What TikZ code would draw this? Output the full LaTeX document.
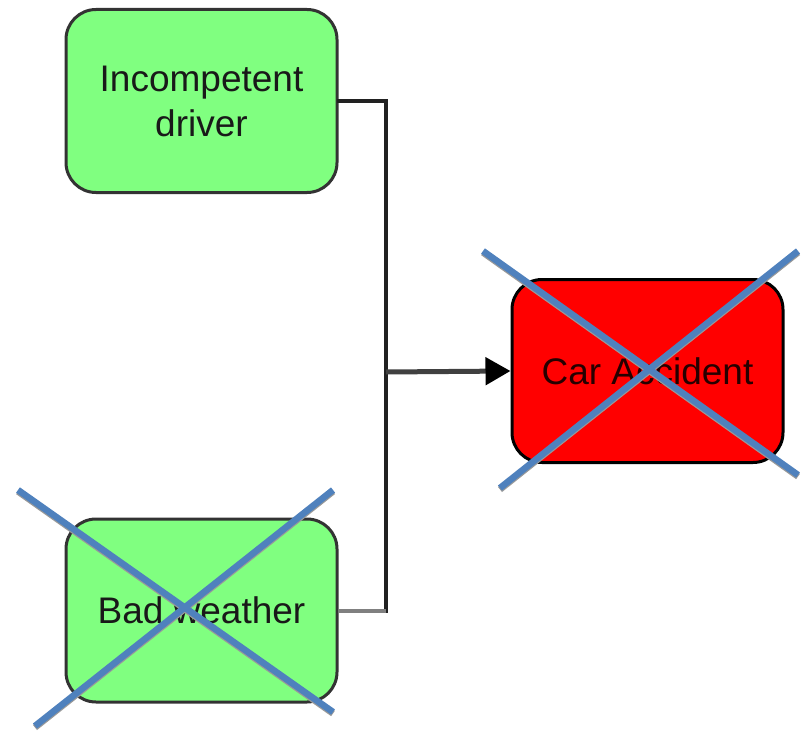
\documentclass[tikz,border=0pt]{standalone}
\usepackage{fontspec}
\setmainfont{Liberation Sans}
\usetikzlibrary{arrows.meta}
\definecolor{boxgreen}{HTML}{80FF80}
\definecolor{boxred}{HTML}{FF0000}
\definecolor{crossblue}{HTML}{4F81BD}
\definecolor{edgedark}{HTML}{333333}
\tikzset{
  cause/.style={draw=edgedark, line width=3pt, fill=boxgreen, rounded corners=30pt,
    minimum width=271pt, minimum height=183pt, align=center,
    font=\fontsize{37}{45}\selectfont, text=black!90},
  effect/.style={cause, draw=black, fill=boxred, text=black!85!red},
  wire/.style={line width=4pt, draw=black!87},
  crossline/.style={line width=6.5pt, draw=crossblue},
  crossshade/.style={line width=6.5pt, draw=black!40}
}
\begin{document}
\begin{tikzpicture}[x=1pt,y=-1pt]
\useasboundingbox (0,0) rectangle (803,733);
\fill[white] (0,0) rectangle (803,733);

\node[cause]  (drv) at (201.5,101)   {Incompetent\\driver};
\node[cause]  (wea) at (201.5,610.5) {Bad weather};
\node[effect] (acc) at (647.5,371)   {Car Accident};

\coordinate (jn) at (386,372);

% joining lines from the two causes
\draw[wire, line cap=rect] (drv.east) -- (drv.east -| jn) -- (wea.east -| jn);
\draw[wire, draw=black!50] (wea.east) -- (wea.east -| jn);
\draw[line width=5pt, draw=black!75,
      -{Triangle[length=25pt,width=27pt,fill=black,color=black]}] (jn) -- (acc.west);

% strike-out crosses
\coordinate (a1) at (483,251); \coordinate (a2) at (798,475);
\coordinate (a3) at (798,251); \coordinate (a4) at (500,488);
\coordinate (b1) at (18,490);  \coordinate (b2) at (333,712);
\coordinate (b3) at (333,490); \coordinate (b4) at (35,726);
\foreach \p/\q in {a1/a2,a3/a4,b1/b2,b3/b4}{
  \draw[crossshade] ([shift={(0,1.5)}]\p) -- ([shift={(0,1.5)}]\q);
}
\foreach \p/\q in {a1/a2,a3/a4,b1/b2,b3/b4}{
  \draw[crossline] (\p) -- (\q);
}
\end{tikzpicture}
\end{document}
